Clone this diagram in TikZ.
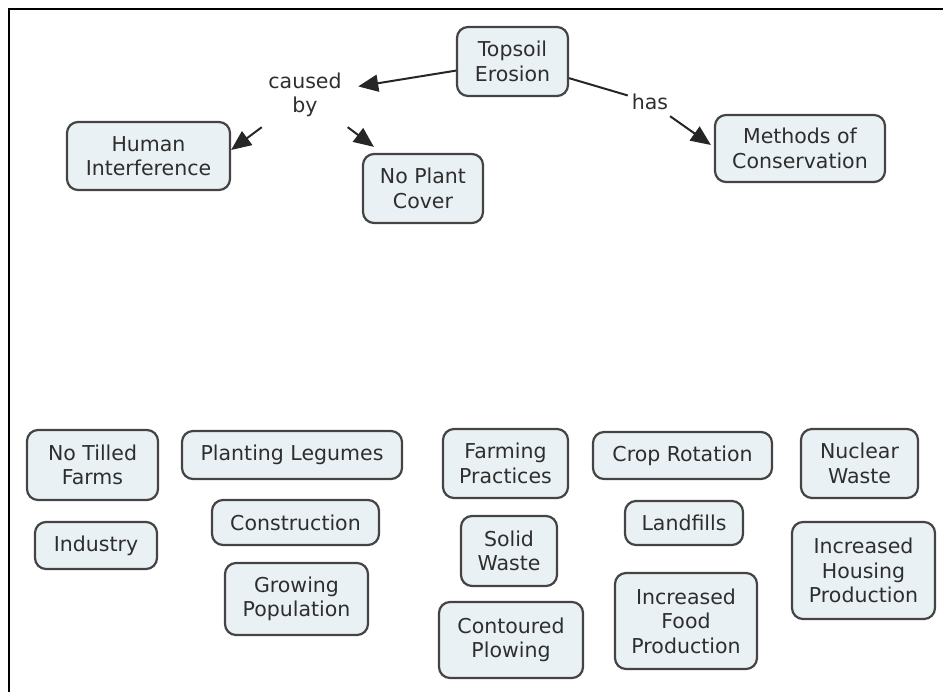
\documentclass[tikz,border=0pt]{standalone}
\usepackage{fontspec}
\setmainfont{DejaVu Sans}
\usetikzlibrary{arrows.meta}
\definecolor{conceptfill}{HTML}{EAF1F4}
\definecolor{conceptline}{HTML}{444444}
\definecolor{inktext}{HTML}{2E2E2E}
\tikzset{
  concept/.style={draw=conceptline, line width=2.2pt, fill=conceptfill,
    rounded corners=11pt, inner sep=0pt, align=center, text=inktext,
    font=\fontsize{20.5}{24.5}\selectfont},
  linkword/.style={inner sep=0pt, align=center, text=inktext,
    font=\fontsize{20.5}{24.5}\selectfont},
  link/.style={line width=2pt, draw=black!85},
  linkarrow/.style={link, -{Triangle[length=20pt,width=17pt]}},
}
\begin{document}
\begin{tikzpicture}[x=1pt, y=-1pt]
\useasboundingbox (0,0) rectangle (943,692);
% frame on the top and left edges
\draw[line width=2.5pt] (9,692) -- (9,9) -- (943,9);

% upper part of the map
\node[concept, minimum width=111pt, minimum height=69pt] (topsoil) at (512.5,61.5) {Topsoil\\Erosion};
\node[concept, minimum width=163pt, minimum height=68pt] (human) at (148.5,156) {Human\\Interference};
\node[concept, minimum width=170pt, minimum height=67pt] (methods) at (800,148.5) {Methods of\\Conservation};
\node[concept, minimum width=120pt, minimum height=69pt] (plant) at (423,188.5) {No Plant\\Cover};

\node[linkword, minimum width=106pt, minimum height=64pt] (caused) at (305,95) {caused\\by};
\node[linkword, minimum width=44pt, minimum height=28pt] (has) at (650,102) {has};

\draw[linkarrow] (topsoil) -- (caused);
\draw[linkarrow] (caused) -- ([yshift=6pt]human.east);
\draw[linkarrow] (caused) -- ([xshift=12pt,yshift=6pt]plant.north west);
\draw[link] (topsoil) -- (has);
\draw[linkarrow] (has) -- ([xshift=-3pt,yshift=3.5pt]methods.west);

% unlinked concepts along the bottom
\node[concept, minimum width=131pt, minimum height=70pt] (notilled) at (92.5,465) {No Tilled\\Farms};
\node[concept, minimum width=220pt, minimum height=48pt] (legumes) at (292,455) {Planting Legumes};
\node[concept, minimum width=122pt, minimum height=47pt] (industry) at (96,545.5) {Industry};
\node[concept, minimum width=167pt, minimum height=45pt] (construction) at (295.5,522.5) {Construction};
\node[concept, minimum width=143pt, minimum height=72pt] (growing) at (296.5,599) {Growing\\Population};
\node[concept, minimum width=125pt, minimum height=69pt] (farming) at (505.5,463.5) {Farming\\Practices};
\node[concept, minimum width=179pt, minimum height=47pt] (crop) at (682.5,455.5) {Crop Rotation};
\node[concept, minimum width=117pt, minimum height=69pt] (nuclear) at (859.5,463.5) {Nuclear\\Waste};
\node[concept, minimum width=96pt, minimum height=70pt] (solid) at (509,551) {Solid\\Waste};
\node[concept, minimum width=118pt, minimum height=44pt] (landfills) at (684,523) {Landfills};
\node[concept, minimum width=144pt, minimum height=76pt] (contoured) at (511,640) {Contoured\\Plowing};
\node[concept, minimum width=142pt, minimum height=96pt] (food) at (686,621) {Increased\\Food\\Production};
\node[concept, minimum width=143pt, minimum height=97pt] (housing) at (863.5,570.5) {Increased\\Housing\\Production};
\end{tikzpicture}
\end{document}
